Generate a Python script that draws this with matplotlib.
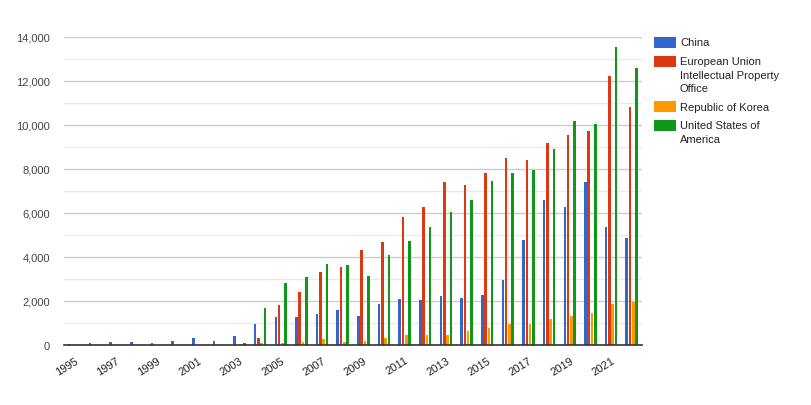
import matplotlib
matplotlib.use("Agg")
import matplotlib.pyplot as plt
import numpy as np
from matplotlib.ticker import MultipleLocator, FuncFormatter
from matplotlib.patches import Rectangle

years = list(range(1995, 2023))
series_names = ["China", "European Union\nIntellectual Property\nOffice",
                "Republic of Korea", "United States of\nAmerica"]
china = [45, 90, 140, 140, 90, 180, 320, 180, 410, 960, 1270, 1270, 1410, 1570, 1330,
         1870, 2090, 2050, 2240, 2150, 2290, 2970, 4790, 6590, 6290, 7410, 5360, 4860]
euipo = [0, 0, 0, 0, 0, 0, 0, 0, 20, 320, 1820, 2410, 3320, 3550, 4320,
         4680, 5820, 6270, 7410, 7290, 7820, 8500, 8410, 9180, 9550, 9730, 12230, 10820]
korea = [10, 10, 10, 10, 10, 10, 10, 10, 30, 90, 90, 140, 270, 140, 180,
         320, 450, 450, 450, 640, 770, 950, 950, 1180, 1320, 1450, 1860, 1950]
usa = [10, 10, 10, 10, 10, 10, 10, 10, 90, 1680, 2820, 3090, 3680, 3640, 3140,
       4090, 4730, 5360, 6050, 6590, 7450, 7820, 7950, 8910, 10180, 10050, 13550, 12590]
colors = ["#3366cc", "#dc3912", "#ff9900", "#109618"]

plt.rcParams["font.family"] = ["Liberation Sans", "DejaVu Sans"]
W, H = 812, 406
fig = plt.figure(figsize=(W / 100, H / 100), dpi=100)
ax = fig.add_axes([64/W, 1 - 346/H, (642-64)/W, (346-38)/H])

x = np.arange(len(years))
data = [china, euipo, korea, usa]
w = 0.125
step = 0.16
offsets = (np.arange(4) - 1.5) * step
for i, (vals, c) in enumerate(zip(data, colors)):
    ax.bar(x + offsets[i], vals, width=w, color=c, linewidth=0, zorder=3)

ax.set_xlim(-0.5, len(years) - 0.5)
ax.set_ylim(0, 14000)
ax.yaxis.set_major_locator(MultipleLocator(2000))
ax.yaxis.set_minor_locator(MultipleLocator(1000))
ax.yaxis.set_major_formatter(FuncFormatter(lambda v, p: f"{int(v):,}"))
ax.grid(axis="y", which="major", color="#cccccc", linewidth=1, zorder=0)
ax.grid(axis="y", which="minor", color="#ebebeb", linewidth=1, zorder=0)
ax.tick_params(axis="y", which="both", length=0, labelsize=8, colors="#444444", pad=10)
for s in ["top", "right", "left"]:
    ax.spines[s].set_visible(False)
ax.spines["bottom"].set_color("#333333")
ax.spines["bottom"].set_linewidth(1.2)
ax.spines["bottom"].set_zorder(4)

ax.set_xticks(x[::2])
ax.set_xticklabels([str(y) for y in years[::2]], rotation=32, ha="right",
                   rotation_mode="anchor", fontsize=8, color="#222222")
ax.tick_params(axis="x", length=0, pad=7)

# Legend drawn manually (handle aligned with first text line)
ypos = 43.5
line_h = 13.7
for name, c in zip(series_names, colors):
    fig.add_artist(Rectangle((654/W, 1 - (ypos + 5.5)/H), 22/W, 11/H,
                             transform=fig.transFigure, color=c, linewidth=0))
    lines = name.split("\n")
    for k, ln in enumerate(lines):
        fig.text(680/W, 1 - (ypos + k*line_h)/H, ln, fontsize=8, color="#222222",
                 ha="left", va="center")
    ypos = ypos + (len(lines) - 1) * line_h + 18.5

fig.savefig("out.png", dpi=100)
